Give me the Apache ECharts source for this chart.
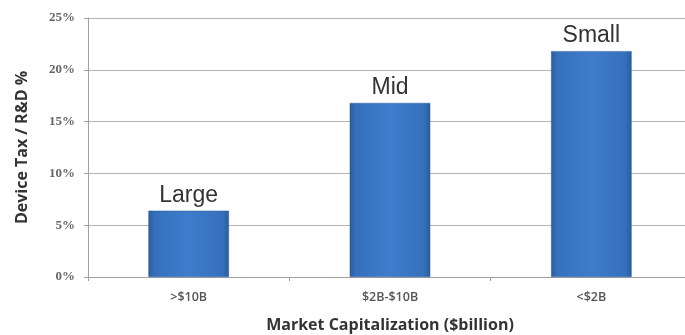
<!DOCTYPE html>
<html><head><meta charset="utf-8">
<script src="https://cdn.jsdelivr.net/npm/echarts@6/dist/echarts.min.js"></script>
<style>html,body{margin:0;padding:0;background:#fff}#c{width:685px;height:335px}</style>
</head><body><div id="c"></div>
<script>
var categories = [">$10B", "$2B-$10B", "<$2B"];
var values = [6.4, 16.8, 21.8];
var barLabels = ["Large", "Mid", "Small"];
var yTicks = [0, 5, 10, 15, 20, 25];

var chart = echarts.init(document.getElementById('c'));
chart.setOption({
  animation: false,
  grid: {left: 88, top: 18, width: 604, height: 259, containLabel: false, outerBoundsMode: 'none'},
  xAxis: {
    type: 'category', data: categories,
    name: 'Market Capitalization ($billion)', nameLocation: 'middle', nameGap: 40,
    nameTextStyle: {fontFamily: 'Open Sans', fontWeight: 'bold', fontSize: 16, color: '#333'},
    axisLine: {lineStyle: {color: '#a0a0a0'}},
    axisTick: {show: true, length: 4, lineStyle: {color: '#a0a0a0'}},
    axisLabel: {fontFamily: 'Open Sans', fontWeight: 600, fontSize: 12.5, color: '#555', margin: 14}
  },
  yAxis: {
    type: 'value', min: 0, max: 25, interval: 5,
    name: 'Device Tax / R&D %', nameLocation: 'middle', nameGap: 58, nameRotate: 90,
    nameTextStyle: {fontFamily: 'Open Sans', fontWeight: 'bold', fontSize: 16, color: '#333'},
    axisLine: {show: true, lineStyle: {color: '#a0a0a0'}},
    axisTick: {show: true, length: 4, lineStyle: {color: '#a0a0a0'}},
    splitLine: {lineStyle: {color: '#b4b4b4'}},
    axisLabel: {fontFamily: 'Liberation Serif', fontWeight: 'bold', fontSize: 13, color: '#666', margin: 13,
      formatter: function(v){ return yTicks.indexOf(v) >= 0 ? v + '%' : ''; }}
  },
  series: [{
    type: 'bar', data: values, barWidth: '40%',
    itemStyle: {
      color: new echarts.graphic.LinearGradient(0, 0, 1, 0, [
        {offset: 0, color: '#2a5c9e'}, {offset: 0.08, color: '#3670bd'},
        {offset: 0.5, color: '#3f7ccb'}, {offset: 0.92, color: '#3670bd'}, {offset: 1, color: '#2a5c9e'}
      ]),
      borderColor: '#2d5f9f', borderWidth: 0.5
    },
    label: {
      show: true, position: 'top', distance: 4,
      fontFamily: 'Liberation Sans', fontSize: 23, color: '#333',
      formatter: function(p){ return barLabels[p.dataIndex]; }
    }
  }]
});
</script></body></html>
